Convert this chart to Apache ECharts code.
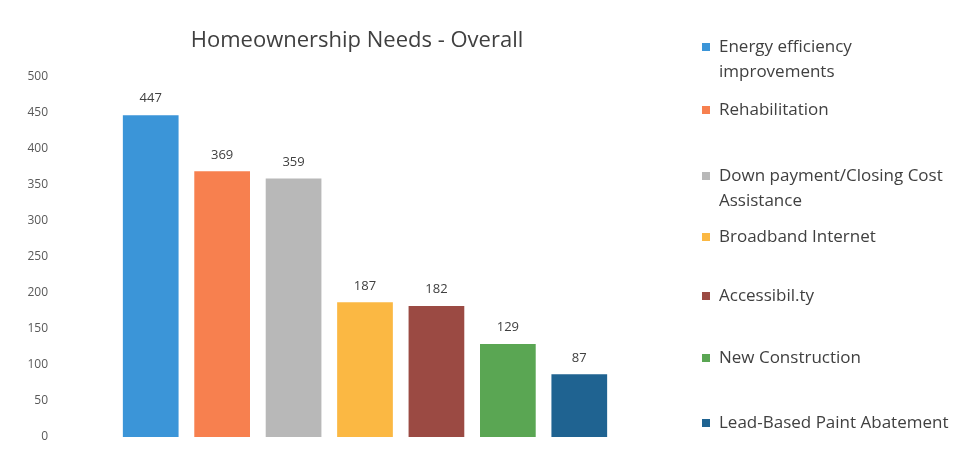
<!DOCTYPE html>
<html><head><meta charset="utf-8">
<script src="https://cdn.jsdelivr.net/npm/echarts@6/dist/echarts.min.js"></script>
<style>html,body{margin:0;padding:0;background:#fff}#c{width:960px;height:451px}</style>
</head><body><div id="c"></div>
<script>
const categories = ["Energy efficiency improvements","Rehabilitation","Down payment/Closing Cost Assistance","Broadband Internet","Accessibility","New Construction","Lead-Based Paint Abatement"];
const legendLabels = ["Energy efficiency\nimprovements","Rehabilitation","Down payment/Closing Cost\nAssistance","Broadband Internet","Accessibil.ty","New Construction","Lead-Based Paint Abatement"];
const values = [447, 369, 359, 187, 182, 129, 87];
const colors = ["#3b95d8","#f7804f","#b8b8b8","#fbb843","#9b4a43","#5aa653","#1f6391"];
const yTicks = [0,50,100,150,200,250,300,350,400,450,500];

const font = "'Open Sans', 'Liberation Sans', sans-serif";
const series = categories.map((name, i) => ({
  name: name,
  type: 'bar',
  stack: 'all',
  barWidth: '78%',
  itemStyle: { color: colors[i] },
  label: { show: true, position: 'top', color: '#404040', fontSize: 13, fontFamily: font, distance: 10 },
  data: values.map((v, j) => j === i ? v : '-')
}));

const legendCenters = [47, 110, 176, 237, 296, 358, 423];
const legends = categories.map((name, i) => {
  const twoLine = legendLabels[i].indexOf('\n') >= 0;
  return {
    data: [name],
    orient: 'vertical',
    left: 697,
    top: twoLine ? legendCenters[i] - 42.5 : legendCenters[i] - 17.5,
    icon: 'rect',
    itemWidth: 8,
    itemHeight: 8,
    selectedMode: false,
    formatter: () => twoLine ? '\n' + legendLabels[i] : legendLabels[i],
    textStyle: { color: '#404040', fontSize: 17, fontFamily: font, lineHeight: 25, padding: [0,0,0,4] }
  };
});

const chart = echarts.init(document.getElementById('c'));
chart.setOption({
  animation: false,
  backgroundColor: '#fff',
  title: {
    text: 'Homeownership Needs - Overall',
    left: 352, top: 25, textAlign: 'center',
    textStyle: { color: '#404040', fontSize: 22, fontWeight: 'normal', fontFamily: font }
  },
  legend: legends,
  grid: { left: 115, right: 345, top: 77, bottom: 14 },
  xAxis: {
    type: 'category', data: categories,
    axisLine: { show: false }, axisTick: { show: false }, axisLabel: { show: false }
  },
  yAxis: {
    type: 'value', min: yTicks[0], max: yTicks[yTicks.length-1], interval: 50,
    axisLine: { show: false }, axisTick: { show: false }, splitLine: { show: false },
    axisLabel: { color: '#595959', fontSize: 12, fontFamily: font, margin: 67 }
  },
  series: series
});
</script></body></html>
